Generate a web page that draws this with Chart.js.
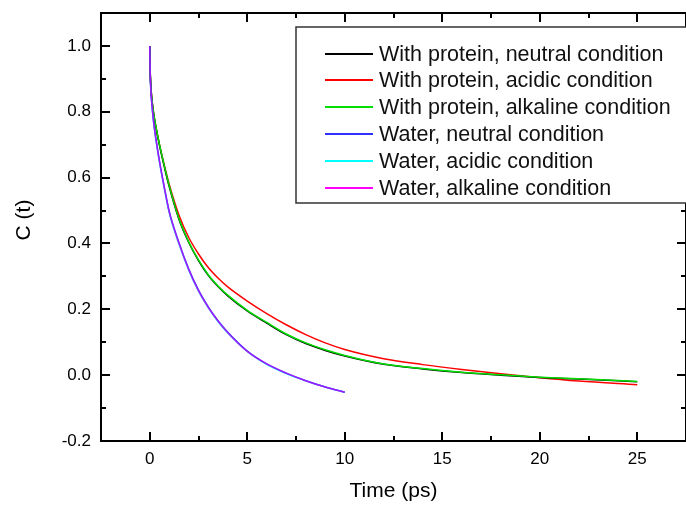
<!DOCTYPE html>
<html>
<head>
<meta charset="utf-8">
<script src="https://cdn.jsdelivr.net/npm/chart.js@4/dist/chart.umd.min.js"></script>
<style>
  html, body { margin: 0; padding: 0; background: #fff; }
  #wrap { width: 686px; height: 506px; }
</style>
</head>
<body>
<div id="wrap"><canvas id="c" width="686" height="506"></canvas></div>
<script>
// ── DATA ──
const T_PROTEIN = [0, 0.02, 0.05, 0.1, 0.2, 0.3, 0.5, 0.75, 1, 1.5, 2, 2.5, 3, 3.5, 4, 5, 6, 7, 8, 9, 10, 12, 14, 16, 18, 20, 22, 25];
const PROTEIN_NEUTRAL  = [1.0, 0.93, 0.883, 0.843, 0.793, 0.758, 0.698, 0.632, 0.572, 0.473, 0.403, 0.348, 0.303, 0.269, 0.241, 0.195, 0.158, 0.123, 0.096, 0.075, 0.058, 0.033, 0.019, 0.008, 0.000, -0.007, -0.012, -0.020];
const PROTEIN_ACIDIC   = [1.0, 0.93, 0.885, 0.845, 0.795, 0.76, 0.70, 0.637, 0.579, 0.486, 0.418, 0.368, 0.327, 0.295, 0.268, 0.225, 0.187, 0.153, 0.123, 0.098, 0.078, 0.050, 0.032, 0.017, 0.004, -0.008, -0.018, -0.029];
const PROTEIN_ALKALINE = [1.0, 0.93, 0.885, 0.845, 0.795, 0.76, 0.70, 0.635, 0.575, 0.475, 0.405, 0.350, 0.305, 0.271, 0.243, 0.197, 0.160, 0.125, 0.098, 0.077, 0.060, 0.034, 0.020, 0.009, 0.001, -0.006, -0.011, -0.019];

const T_WATER = [0, 0.02, 0.05, 0.1, 0.2, 0.3, 0.5, 0.75, 1, 1.5, 2, 2.5, 3, 3.5, 4, 5, 6, 7, 8, 9, 10];
const WATER_NEUTRAL  = [1.0, 0.925, 0.875, 0.83, 0.77, 0.725, 0.65, 0.57, 0.497, 0.402, 0.322, 0.258, 0.207, 0.165, 0.130, 0.073, 0.034, 0.006, -0.017, -0.036, -0.052];
const WATER_ACIDIC   = [1.0, 0.921, 0.871, 0.826, 0.766, 0.721, 0.646, 0.566, 0.493, 0.398, 0.319, 0.255, 0.205, 0.163, 0.128, 0.072, 0.033, 0.005, -0.017, -0.036, -0.052];
const WATER_ALKALINE = [1.0, 0.923, 0.873, 0.828, 0.768, 0.723, 0.648, 0.568, 0.495, 0.400, 0.320, 0.256, 0.206, 0.164, 0.129, 0.072, 0.034, 0.006, -0.017, -0.036, -0.052];

const LABELS = [
  'With protein, neutral condition',
  'With protein, acidic condition',
  'With protein, alkaline condition',
  'Water, neutral condition',
  'Water, acidic condition',
  'Water, alkaline condition'
];

const X_TICKS = [0, 5, 10, 15, 20, 25];
const Y_TICKS = [-0.2, 0, 0.2, 0.4, 0.6, 0.8, 1.0];

const X_TITLE = 'Time (ps)';
const Y_TITLE = 'C (t)';

// ── STYLE ──
const FONT = "'Liberation Sans', Arial, sans-serif";
const COLORS = ['#000000', '#ff0000', '#00dd00', '#3030ff', '#00ffff', '#ff00ff'];
// line colour on the plot (magenta drawn semi-transparent over blue -> purple look)
const LINE_COLORS = ['#000000', '#ff0000', '#00dd00', '#3030ff', '#00ffff', 'rgba(255,0,255,0.55)'];
const ORDER  = [3, 4, 2, 1, 5, 0];

const pts = (ts, ys) => ts.map((t, i) => ({ x: t, y: ys[i] }));
const SERIES = [
  pts(T_PROTEIN, PROTEIN_NEUTRAL),
  pts(T_PROTEIN, PROTEIN_ACIDIC),
  pts(T_PROTEIN, PROTEIN_ALKALINE),
  pts(T_WATER, WATER_NEUTRAL),
  pts(T_WATER, WATER_ACIDIC),
  pts(T_WATER, WATER_ALKALINE)
];

// ── FRAME / INWARD TICKS / LEGEND BOX / Y TITLE ──
const framePlugin = {
  id: 'framePlugin',
  afterDraw(chart) {
    const { ctx, chartArea: { left, right, top, bottom }, scales: { x, y } } = chart;
    ctx.save();
    ctx.strokeStyle = '#000';
    ctx.lineWidth = 2;
    ctx.strokeRect(left, top, right - left, bottom - top);

    // x ticks (major every 5, minor every 2.5)
    for (let i = -1; i <= 11; i++) {
      const px = Math.round(x.getPixelForValue(i * 2.5));
      const len = (i % 2 === 0) ? 9 : 5;
      ctx.beginPath();
      ctx.moveTo(px, bottom); ctx.lineTo(px, bottom - len);
      ctx.moveTo(px, top);    ctx.lineTo(px, top + len);
      ctx.stroke();
    }
    // y ticks (major every 0.2, minor every 0.1)
    for (let i = -2; i <= 11; i++) {
      const py = Math.round(y.getPixelForValue(i / 10));
      const len = (i % 2 === 0) ? 9 : 5;
      ctx.beginPath();
      ctx.moveTo(left, py);  ctx.lineTo(left + len, py);
      ctx.moveTo(right, py); ctx.lineTo(right - len, py);
      ctx.stroke();
    }

    // legend
    const bx = 296, by = 27, bh = 176;
    ctx.fillStyle = '#fff';
    ctx.fillRect(bx, by, 400, bh);
    ctx.lineWidth = 1.5;
    ctx.strokeStyle = '#333';
    ctx.strokeRect(bx, by, 420, bh);
    ctx.font = `21.5px ${FONT}`;
    ctx.textBaseline = 'middle';
    ctx.textAlign = 'left';
    LABELS.forEach((label, i) => {
      const ry = Math.round(53.5 + i * 26.8);
      ctx.strokeStyle = COLORS[i];
      ctx.lineWidth = 2;
      ctx.beginPath();
      ctx.moveTo(325, ry); ctx.lineTo(373, ry);
      ctx.stroke();
      ctx.fillStyle = '#111';
      ctx.fillText(label, 379, ry + 1);
    });

    // y title
    ctx.font = `21px ${FONT}`;
    ctx.translate(24, 220);
    ctx.rotate(-Math.PI / 2);
    ctx.textAlign = 'center';
    ctx.fillStyle = '#000';
    ctx.fillText(Y_TITLE, 0, 0);
    ctx.restore();
  }
};

new Chart(document.getElementById('c'), {
  type: 'scatter',
  data: {
    datasets: SERIES.map((data, i) => ({
      label: LABELS[i],
      data,
      showLine: true,
      borderColor: LINE_COLORS[i],
      backgroundColor: LINE_COLORS[i],
      borderWidth: 1.5,
      pointRadius: 0,
      cubicInterpolationMode: 'monotone',
      order: ORDER[i]
    }))
  },
  options: {
    responsive: false,
    animation: false,
    layout: { padding: { top: 13, right: 0, left: 0, bottom: 0 } },
    plugins: { legend: { display: false }, tooltip: { enabled: false } },
    scales: {
      x: {
        type: 'linear',
        min: -2.5,
        max: 27.5,
        afterBuildTicks: s => { s.ticks = X_TICKS.map(v => ({ value: v })); },
        afterFit: s => { s.height = 65; s.paddingLeft = 0; s.paddingRight = 0; },
        grid: { display: false, drawTicks: false },
        border: { display: false },
        ticks: { color: '#000', font: { family: FONT, size: 17 }, padding: 8, maxRotation: 0, callback: v => String(v) },
        title: { display: true, text: X_TITLE, color: '#000', font: { family: FONT, size: 21 }, padding: { top: 0, bottom: 2 } }
      },
      y: {
        type: 'linear',
        min: -0.2,
        max: 1.1,
        afterBuildTicks: s => { s.ticks = Y_TICKS.map(v => ({ value: v })); },
        afterFit: s => { s.width = 101; s.paddingTop = 0; s.paddingBottom = 0; },
        grid: { display: false, drawTicks: false },
        border: { display: false },
        ticks: { color: '#000', font: { family: FONT, size: 17 }, padding: 10, callback: v => v.toFixed(1) }
      }
    }
  },
  plugins: [framePlugin]
});
</script>
</body>
</html>
